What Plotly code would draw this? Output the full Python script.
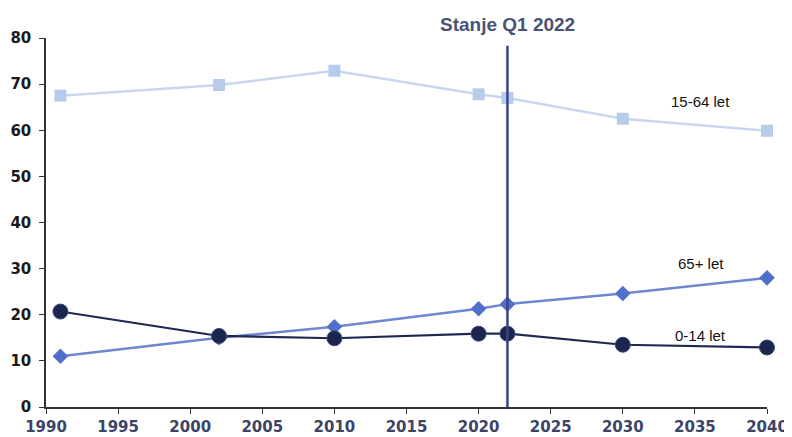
import plotly.graph_objects as go

years = [1991, 2002, 2010, 2020, 2022, 2030, 2040]
age_15_64 = [67.5, 69.8, 72.9, 67.8, 67.0, 62.5, 59.9]
age_65_plus = [11.0, 15.0, 17.4, 21.3, 22.3, 24.6, 28.0]
age_0_14 = [20.7, 15.4, 14.9, 15.9, 15.9, 13.5, 12.9]
series_names = ["15-64 let", "65+ let", "0-14 let"]
label_values = [66.2, 31.2, 15.6]
label_year = 2035.4
marker_year = 2022
marker_label = "Stanje Q1 2022"
x_ticks = [1990, 1995, 2000, 2005, 2010, 2015, 2020, 2025, 2030, 2035, 2040]
y_ticks = [0, 10, 20, 30, 40, 50, 60, 70, 80]

fig = go.Figure()
fig.add_trace(go.Scatter(x=years, y=age_15_64, mode="lines+markers", name=series_names[0],
                         line=dict(color="#c9d7ee", width=2.5),
                         marker=dict(symbol="square", size=12, color="#b7cbea"),
                         cliponaxis=False))
fig.add_trace(go.Scatter(x=years, y=age_65_plus, mode="lines+markers", name=series_names[1],
                         line=dict(color="#6f86d0", width=2.5),
                         marker=dict(symbol="diamond", size=12, color="#4f6fcb"),
                         cliponaxis=False))
fig.add_trace(go.Scatter(x=years, y=age_0_14, mode="lines+markers", name=series_names[2],
                         line=dict(color="#1f2850", width=2.2),
                         marker=dict(symbol="circle", size=15, color="#1b264c",
                                     line=dict(color="#3a4a80", width=1)),
                         cliponaxis=False))

fig.add_shape(type="line", x0=marker_year, x1=marker_year, y0=0, y1=78.3,
              xref="x", yref="y", line=dict(color="#3a4384", width=2.5))
fig.add_annotation(x=marker_year, y=1, xref="x", yref="paper", yshift=14, yanchor="middle",
                   text="<b>" + marker_label + "</b>", showarrow=False,
                   font=dict(family="Liberation Sans, Arial", size=19, color="#4a5276"))

for name, yy in zip(series_names, label_values):
    fig.add_annotation(x=label_year, y=yy, xref="x", yref="y", text=name, showarrow=False,
                       xanchor="center",
                       font=dict(family="Liberation Sans, Arial", size=15, color="#111111"))

fig.update_layout(
    width=784, height=429,
    margin=dict(l=38, r=25, t=30, b=30),
    paper_bgcolor="white", plot_bgcolor="white",
    showlegend=False,
    font=dict(family="Liberation Sans, Arial"),
)
fig.update_xaxes(range=[1990, 2040], tickvals=x_ticks, showgrid=False, zeroline=False,
                 showline=True, linecolor="#333333", linewidth=1.5, automargin=False,
                 ticks="outside", ticklen=5, tickcolor="#333333",
                 tickfont=dict(size=15, color="#3d4468", family="DejaVu Sans",
                               weight="bold"))
fig.update_yaxes(range=[0, 80], tickvals=y_ticks, showgrid=False, zeroline=False,
                 showline=True, linecolor="#333333", linewidth=1.5, automargin=False,
                 ticks="outside", ticklen=5, tickcolor="#333333", ticklabelstandoff=5,
                 tickfont=dict(size=15, color="#1a1a1a", family="DejaVu Sans",
                               weight="bold"))

fig.write_html("out.html")
